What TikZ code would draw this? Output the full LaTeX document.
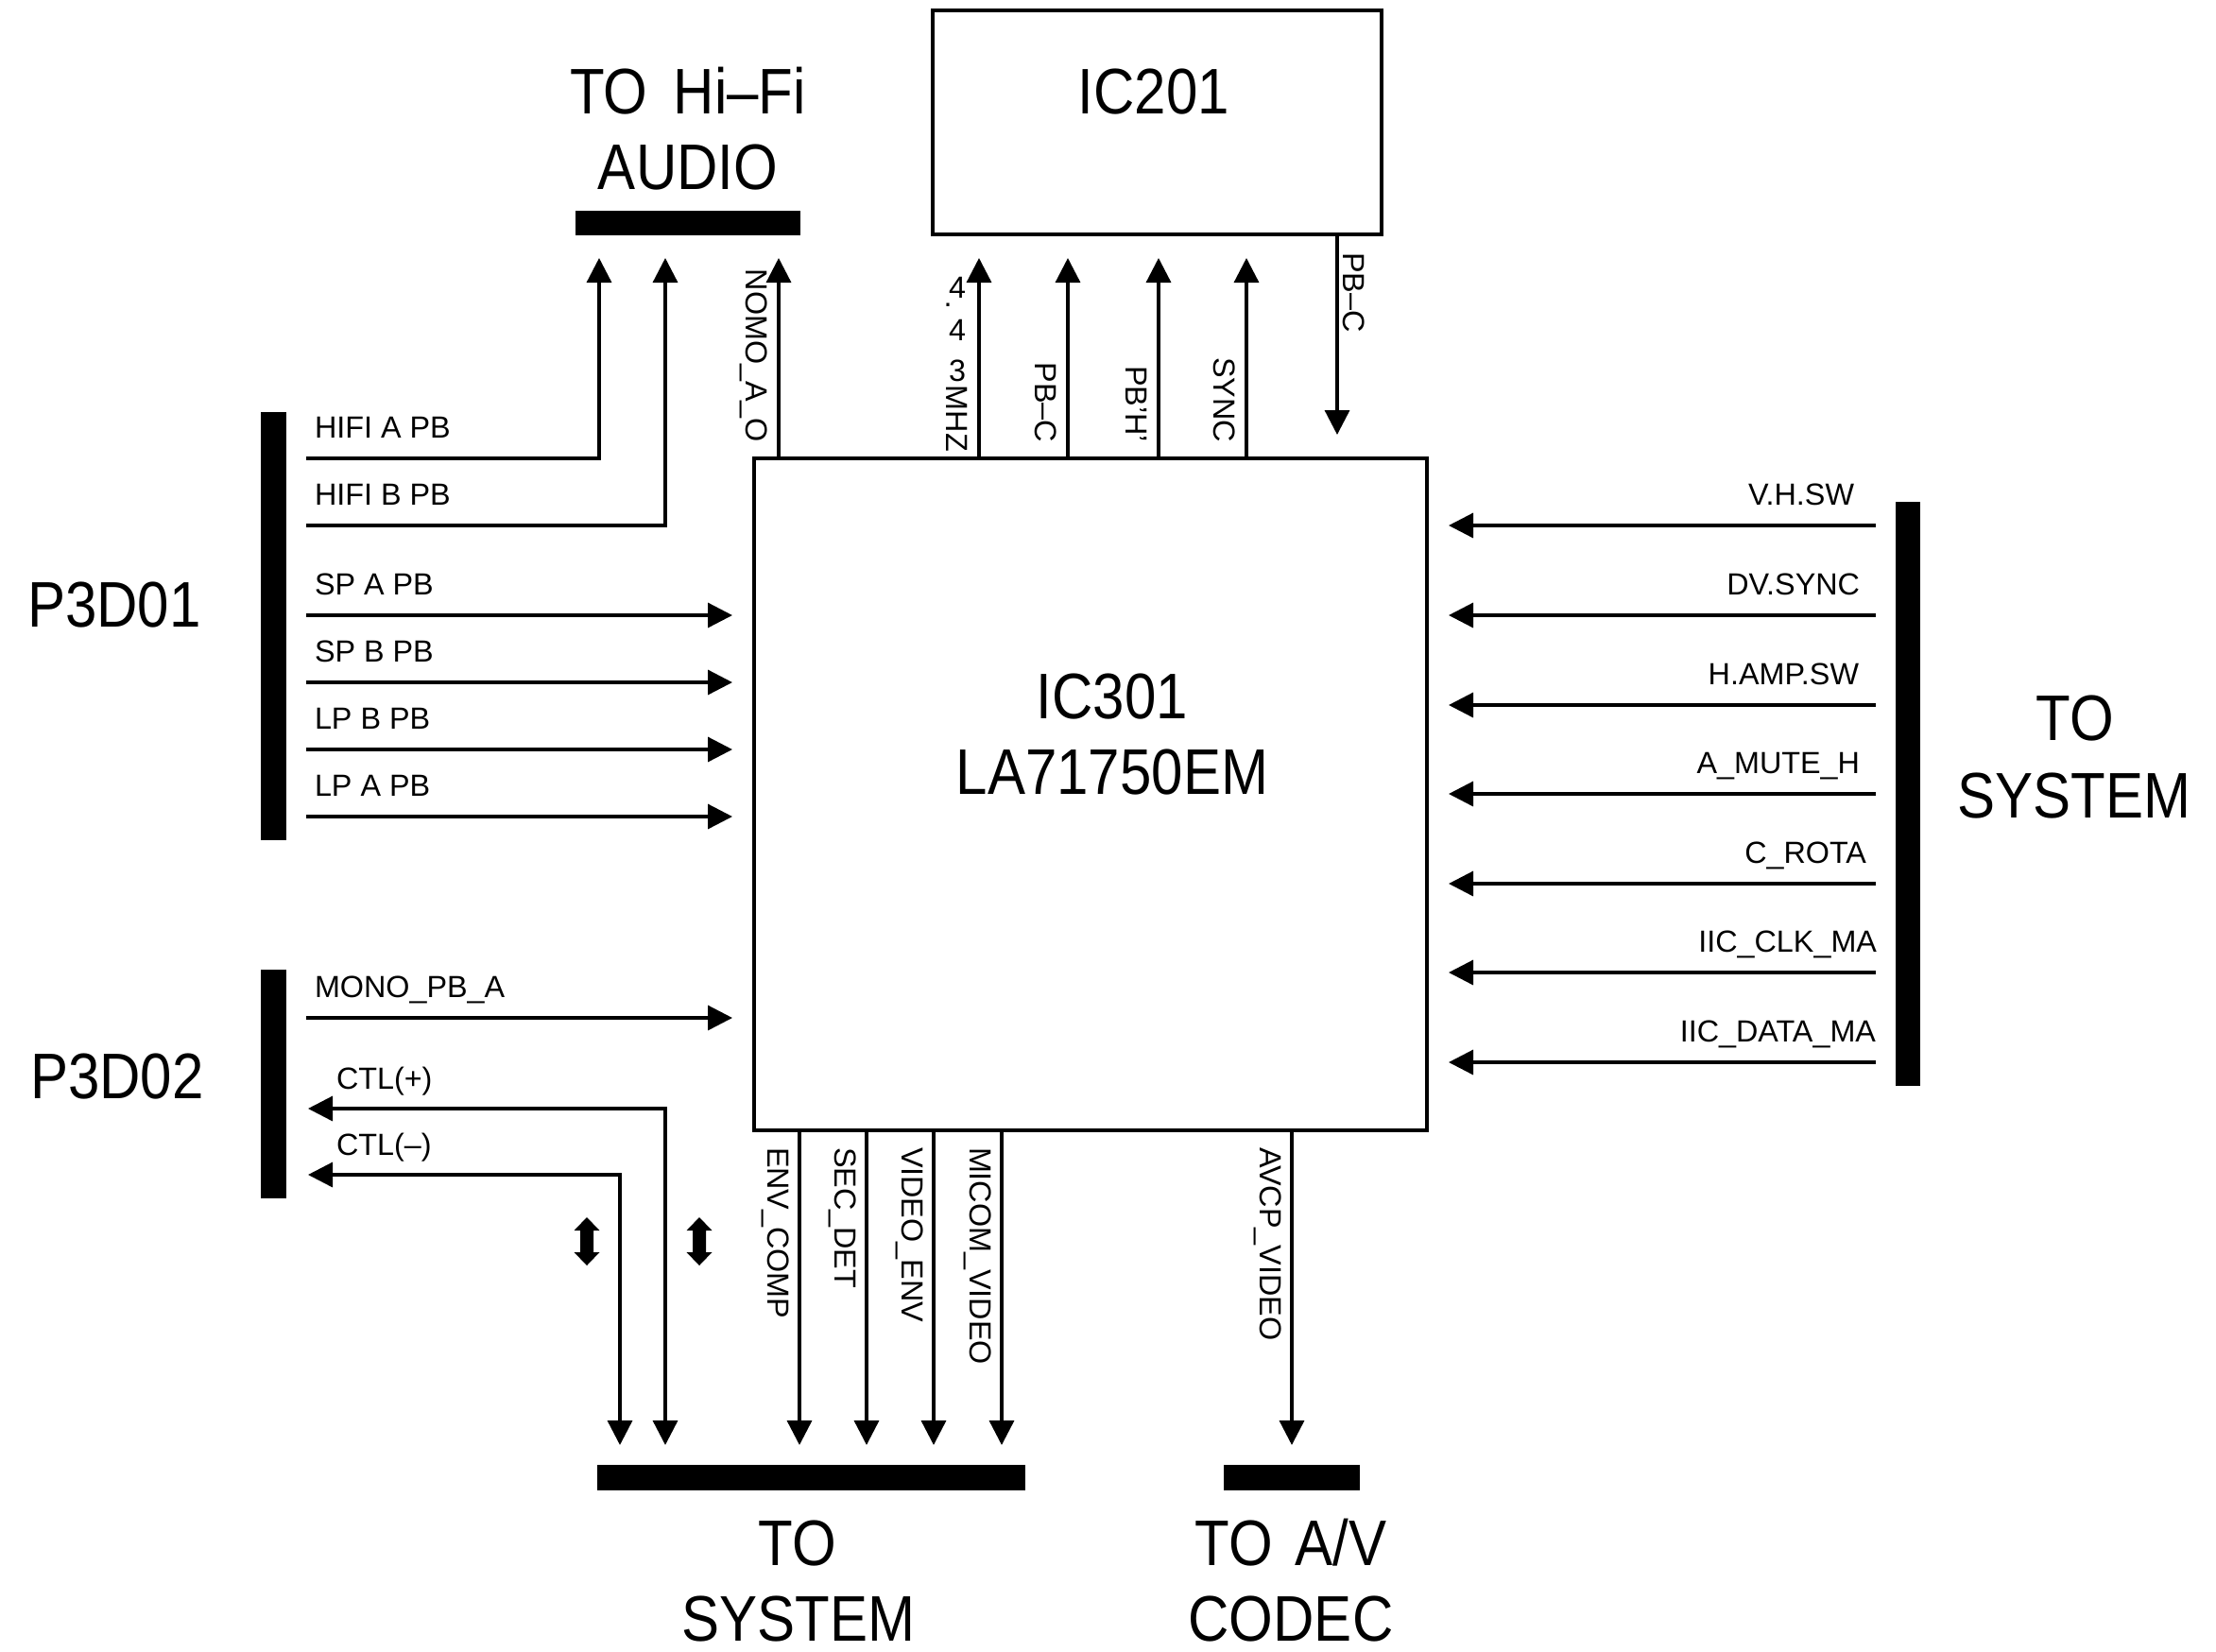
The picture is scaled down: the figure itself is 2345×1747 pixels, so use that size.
\documentclass[tikz,border=0pt]{standalone}
\usepackage{fontspec}
\setmainfont{Liberation Sans}
\newfontfamily\bigfamily[FakeStretch=0.88]{Liberation Sans}
\usetikzlibrary{arrows.meta}
\begin{document}
\begin{tikzpicture}[x=0.1mm,y=-0.1mm,
  every node/.style={inner sep=0pt, outer sep=0pt},
  lbl/.style={font=\fontsize{9.2}{11}\selectfont, text=black},
  big/.style={font=\bigfamily\fontsize{19.4}{23}\selectfont, text=black},
  wire/.style={line width=0.95pt},
  sig/.style={wire, -{Triangle[length=2.6mm,width=2.6mm]}},
  bisig/.style={wire, {Triangle[length=2.6mm,width=2.6mm]}-{Triangle[length=2.6mm,width=2.6mm]}},
  chip/.style={draw, line width=1.05pt},
  bar/.style={fill=black, draw=none},
  vlab/.style={lbl, rotate=-90},
]
\fill[white] (0,0) rectangle (2345,1747);
\useasboundingbox (0,0) rectangle (2345,1747);

% ---- blocks and connector bars
\node[chip, minimum width=71.2mm, minimum height=71.1mm] (ic301) at (1154,840.5) {};
\node[chip, minimum width=47.5mm, minimum height=23.7mm] (ic201) at (1224.5,129.5) {};
\node[bar, minimum width=23.8mm, minimum height=2.6mm] (hifibar) at (728,236) {};
\node[bar, minimum width=2.7mm, minimum height=45.3mm] (p1bar) at (289.5,662.5) {};
\node[bar, minimum width=2.7mm, minimum height=24.2mm] (p2bar) at (289.5,1147) {};
\node[bar, minimum width=2.6mm, minimum height=61.8mm] (rbar) at (2019,840) {};
\node[bar, minimum width=45.3mm, minimum height=2.7mm] (sysbar) at (858.5,1563.5) {};
\node[bar, minimum width=14.4mm, minimum height=2.7mm] (avbar) at (1367,1563.5) {};

% ---- big texts
\node[big, anchor=base] (hifiA) at (728,120) {TO\hspace{0.4em}Hi–Fi};
\node[big, anchor=base] (hifiB) at (728,200) {AUDIO};
\node[big, anchor=base] (ic201t) at (1221,120) {IC201};
\node[big, anchor=base] (ic301a) at (1177,760) {IC301};
\node[big, anchor=base] (ic301b) at (1177,840) {LA71750EM};
\node[big, anchor=base] (p1t) at (121,663) {P3D01};
\node[big, anchor=base] (p2t) at (124,1162) {P3D02};
\node[big, anchor=base] (rs1) at (2196,783) {TO};
\node[big, anchor=base] (rs2) at (2195,865) {SYSTEM};
\node[big, anchor=base] (bs1) at (844,1656) {TO};
\node[big, anchor=base] (bs2) at (845,1736) {SYSTEM};
\node[big, anchor=base] (av1) at (1366,1656) {TO\hspace{0.35em}A/V};
\node[big, anchor=base] (av2) at (1366,1736) {CODEC};

% ---- top arrow ends
\coordinate (tA) at (634,273);
\coordinate (tB) at (704,273);
\coordinate (tN) at (824,273);
\coordinate (t1) at (1036,273);
\coordinate (t2) at (1130,273);
\coordinate (t3) at (1226,273);
\coordinate (t4) at (1319,273);
\coordinate (dPBC) at (1415,460);

% HIFI A / B
\coordinate (hA) at (324,485);
\coordinate (hB) at (324,556);
\draw[sig] (hA) -- (hA -| tA) -- (tA);
\draw[sig] (hB) -- (hB -| tB) -- (tB);
\node[lbl, anchor=base west] (lhA) at (333,463) {HIFI A PB};
\node[lbl, anchor=base west] (lhB) at (333,534) {HIFI B PB};

% IC301 upward outputs
\draw[sig] (ic301.north -| tN) -- (tN);
\draw[sig] (ic301.north -| t1) -- (t1);
\draw[sig] (ic301.north -| t2) -- (t2);
\draw[sig] (ic301.north -| t3) -- (t3);
\draw[sig] (ic301.north -| t4) -- (t4);
\draw[sig] (ic201.south -| dPBC) -- (dPBC);

\node[vlab, anchor=north east] (lN) at (812,468) {NOMO\_A\_O};
\node[vlab, anchor=north east] (l2) at (1118,468) {PB–C};
\node[vlab, anchor=north east] (l3) at (1214,468) {PB'H'};
\node[vlab, anchor=north east] (l4) at (1307,468) {SYNC};
\node[vlab, anchor=south west] (lPBC) at (1421,267) {PB–C};
% 4.43MHZ (digits upright, letters turned)
\node[lbl, anchor=base] (f1) at (1013,315) {4};
\node[lbl] (fdot) at (1003,323) {.};
\node[lbl, anchor=base] (f2) at (1013,360) {4};
\node[lbl, anchor=base] (f3) at (1013,403) {3};
\node[vlab, anchor=north east] (f4) at (1024,478) {MHZ};

% ---- left inputs
\foreach \i/\y/\t in {1/651/SP A PB, 2/722/SP B PB, 3/793/LP B PB, 4/864/LP A PB, 5/1077/MONO\_PB\_A} {
  \coordinate (L\i) at (324,\y);
  \coordinate (R\i) at (775,\y);
  \draw[sig] (L\i) -- (R\i);
  \node[lbl, anchor=base west] (lL\i) at (333,\y-22) {\t};
}

% CTL lines
\coordinate (c1L) at (326,1173);
\coordinate (c1B) at (704,1529);
\coordinate (c2L) at (326,1243);
\coordinate (c2B) at (656,1529);
\draw[bisig] (c1L) -- (c1L -| c1B) -- (c1B);
\draw[bisig] (c2L) -- (c2L -| c2B) -- (c2B);
\node[lbl, anchor=base west] (lc1) at (356,1152) {CTL(+)};
\node[lbl, anchor=base west] (lc2) at (356,1222) {CTL(–)};

% bidirectional marks
\foreach \cx in {621,740} {
  \fill (\cx,1288) -- (\cx+13.5,1302) -- (\cx+7,1302) -- (\cx+7,1325) -- (\cx+13.5,1325)
    -- (\cx,1339) -- (\cx-13.5,1325) -- (\cx-7,1325) -- (\cx-7,1302) -- (\cx-13.5,1302) -- cycle;
}

% ---- bottom outputs
\foreach \i/\x/\t in {1/846/ENV\_COMP, 2/917/SEC\_DET, 3/988/VIDEO\_ENV, 4/1060/MICOM\_VIDEO, 5/1367/AVCP\_VIDEO} {
  \coordinate (B\i) at (\x,1529);
  \draw[sig] (ic301.south -| B\i) -- (B\i);
  \node[vlab, anchor=north west] (lB\i) at (\x-11,1214) {\t};
}

% ---- right inputs
\foreach \i/\y/\xr/\t in {1/556/1962/V.H.SW, 2/651/1968/DV.SYNC, 3/746/1967/H.AMP.SW, 4/840/1968/A\_MUTE\_H, 5/935/1975/C\_ROTA, 6/1029/1986/IIC\_CLK\_MA, 7/1124/1985/IIC\_DATA\_MA} {
  \coordinate (S\i) at (1985,\y);
  \coordinate (T\i) at (1533,\y);
  \draw[sig] (S\i) -- (T\i);
  \node[lbl, anchor=base east] (lS\i) at (\xr,\y-22) {\t};
}
\end{tikzpicture}
\end{document}
